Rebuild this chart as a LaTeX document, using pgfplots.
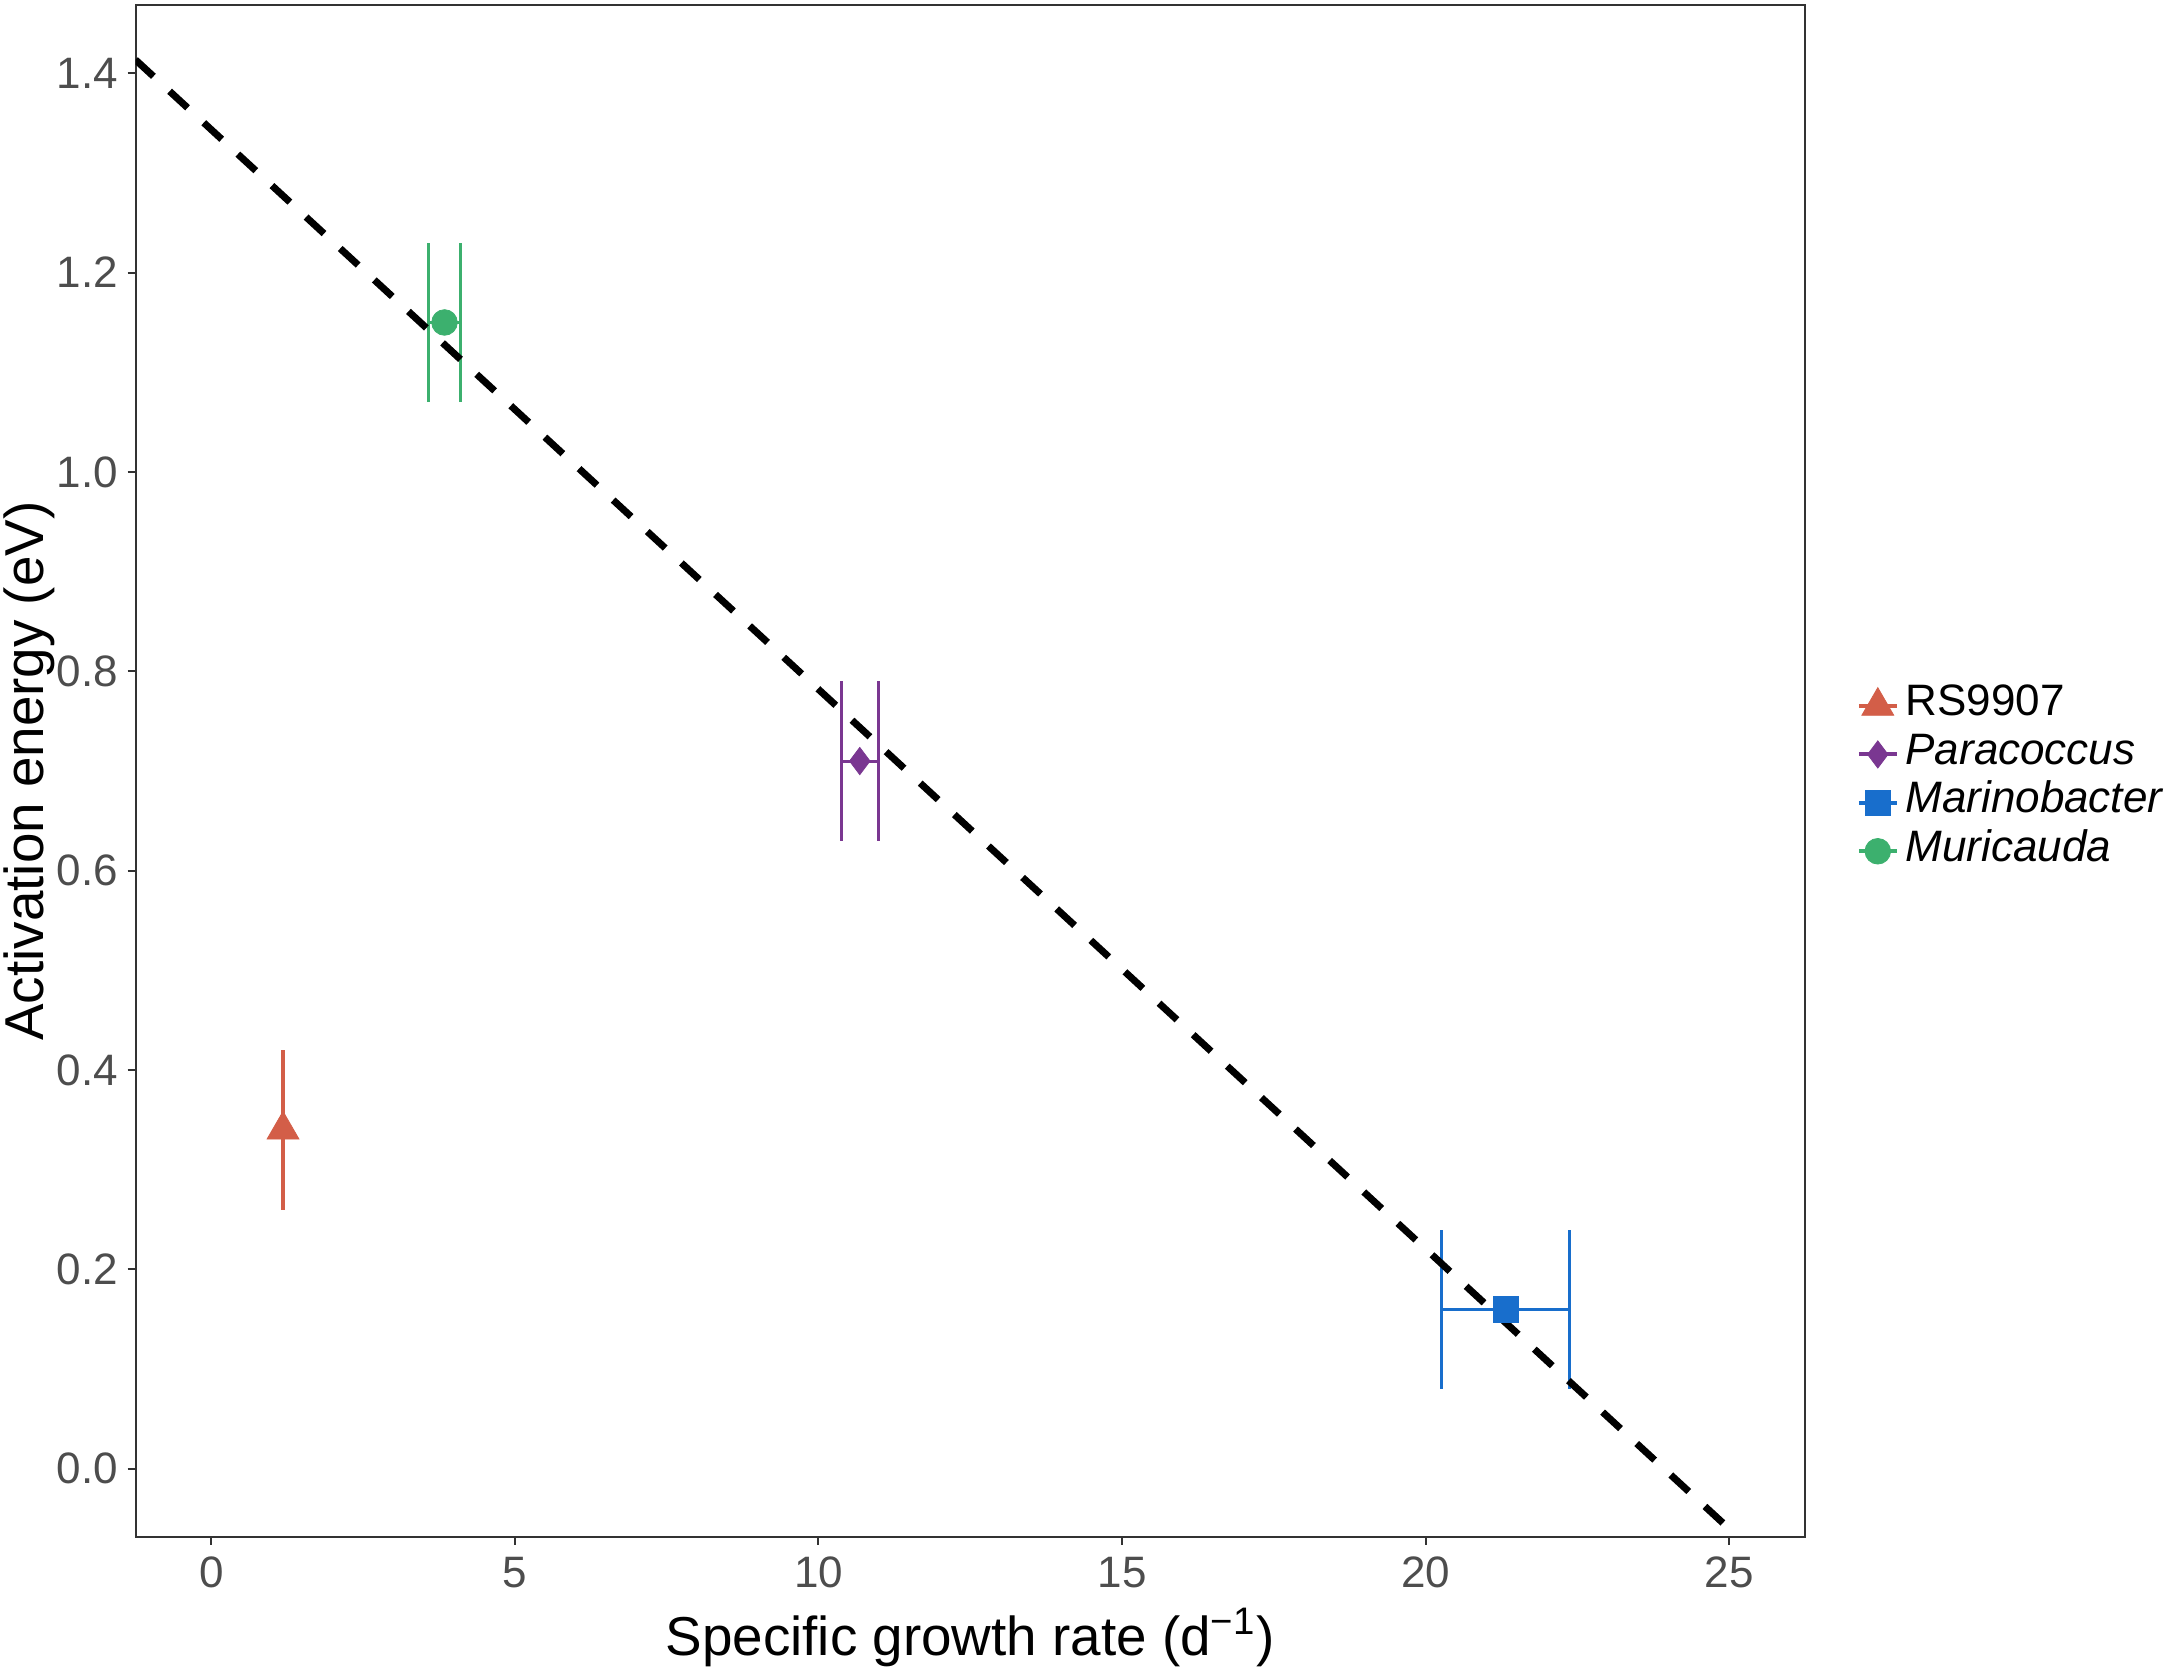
\documentclass[border=0pt]{standalone}
\usepackage{fontspec}
\setmainfont{Liberation Sans}
\usepackage{pgfplots}
\pgfplotsset{compat=1.18}
\definecolor{cRS}{RGB}{211,94,72}
\definecolor{cPa}{RGB}{122,55,145}
\definecolor{cMa}{RGB}{24,110,204}
\definecolor{cMu}{RGB}{60,176,110}
\definecolor{framegray}{RGB}{51,51,51}
\definecolor{tickgray}{RGB}{77,77,77}
\begin{document}
\begin{tikzpicture}
\useasboundingbox (0,0) rectangle (542.25pt,418pt);
\begin{axis}[
  at={(33.875pt,33.875pt)}, anchor=south west,
  scale only axis, width=417.375pt, height=382.75pt,
  xmin=-1.25, xmax=26.25, ymin=-0.068, ymax=1.468,
  xtick={0,5,10,15,20,25},
  ytick={0,0.2,0.4,0.6,0.8,1.0,1.2,1.4},
  yticklabel style={/pgf/number format/fixed, /pgf/number format/fixed zerofill, /pgf/number format/precision=1},
  /pgf/number format/assume math mode=true,
  tick label style={font=\fontsize{11}{13}\selectfont, text=tickgray, inner sep=0pt},
  yticklabel style={xshift=-2.2pt},
  xticklabel style={yshift=-2.9pt},
  axis line style={draw=framegray, line width=0.5pt},
  tick style={draw=framegray, line width=0.5pt},
  tick align=outside, tick pos=left, major tick length=2pt,
  xlabel={Specific growth rate (d\textsuperscript{−1})},
  ylabel={Activation energy (eV)},
  label style={font=\fontsize{13.7}{16}\selectfont, inner sep=0pt},
  x label style={at={(axis description cs:0.5,-0.0775)}, anchor=base},
  y label style={at={(axis description cs:-0.0549,0.5)}, anchor=base},
  legend style={at={(axis description cs:1.031,0.495)}, anchor=west, draw=none, fill=none,
    inner sep=0pt, outer sep=0pt, font=\fontsize{11}{13}\selectfont,
    nodes={inner sep=0pt, text height=8.5pt, text depth=3.6pt}, column sep=1.7pt},
  legend cell align=left,
  legend image code/.code={\draw[#1, line width=1pt] (0pt,0pt) -- (9.5pt,0pt); \draw[#1] plot coordinates {(4.75pt,0pt)};},
]
% error bars
\addplot[cRS, line width=0.8pt, forget plot, mark=none] coordinates {(1.18,0.26) (1.18,0.42)};
\addplot[cPa, line width=0.75pt, forget plot, mark=none, unbounded coords=jump] coordinates {(10.38,0.63) (10.38,0.79) (10.38,nan) (10.99,0.63) (10.99,0.79) (10.99,nan) (10.38,0.71) (10.99,0.71)};
\addplot[cMa, line width=0.75pt, forget plot, mark=none, unbounded coords=jump] coordinates {(20.27,0.08) (20.27,0.24) (20.27,nan) (22.37,0.08) (22.37,0.24) (22.37,nan) (20.27,0.16) (22.37,0.16)};
\addplot[cMu, line width=0.75pt, forget plot, mark=none, unbounded coords=jump] coordinates {(3.57,1.07) (3.57,1.23) (3.57,nan) (4.10,1.07) (4.10,1.23) (4.10,nan) (3.57,1.15) (4.10,1.15)};
% points
\addplot[cRS, only marks, mark=triangle*, mark size=4.6pt, mark options={line width=0.2pt}] coordinates {(1.18,0.34)};
\addlegendentry{RS9907}
\addplot[cPa, only marks, mark=diamond*, mark size=3.4pt, mark options={line width=0.2pt}] coordinates {(10.68,0.71)};
\addlegendentry{\textit{Paracoccus}}
\addplot[cMa, only marks, mark=square*, mark size=3.2pt, mark options={line width=0.2pt}] coordinates {(21.32,0.16)};
\addlegendentry{\textit{Marinobacter}}
\addplot[cMu, only marks, mark=*, mark size=3.2pt, mark options={line width=0.2pt}] coordinates {(3.84,1.15)};
\addlegendentry{\textit{Muricauda}}
% fit line
\addplot[black, line width=1.75pt, dash pattern=on 6.1pt off 5.5pt, forget plot, mark=none] coordinates {(-1.25,1.4135) (24.92,-0.0557)};
\end{axis}
\end{tikzpicture}
\end{document}
